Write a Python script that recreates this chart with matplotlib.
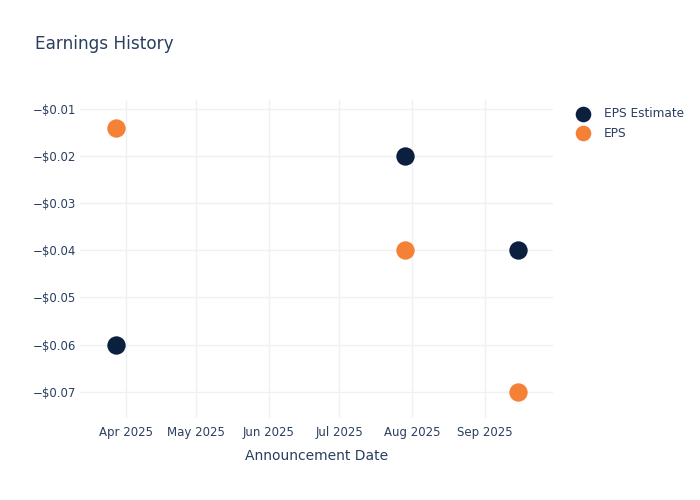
import numpy as np
import pandas as pd
import matplotlib
matplotlib.use("Agg")
import matplotlib.pyplot as plt
import matplotlib.dates as mdates
from matplotlib.ticker import FuncFormatter

dates = pd.to_datetime(["2025-03-28", "2025-07-29", "2025-09-15"])
eps_estimate = [-0.06, -0.02, -0.04]
eps_actual = [-0.014, -0.04, -0.07]

navy = "#0b1f3f"
orange = "#f58137"
text_col = "#2a3f5f"
grid_col = "#eef0f4"

plt.rcParams["font.family"] = ["DejaVu Sans"]

fig = plt.figure(figsize=(7, 5), dpi=100)
ax = fig.add_axes([80 / 700, 82 / 500, 473 / 700, 318 / 500])

ax.scatter(dates, eps_estimate, s=175, color=navy, label="EPS Estimate", zorder=3, linewidths=0)
ax.scatter(dates, eps_actual, s=175, color=orange, label="EPS", zorder=3, linewidths=0)

ax.set_xlim(pd.Timestamp("2025-03-12 12:00"), pd.Timestamp("2025-09-30"))
ax.set_ylim(-0.0756, -0.0081)

ax.xaxis.set_major_locator(mdates.MonthLocator(bymonthday=1))
ax.xaxis.set_major_formatter(mdates.DateFormatter("%b %Y"))
ax.set_yticks([-0.01, -0.02, -0.03, -0.04, -0.05, -0.06, -0.07])
ax.yaxis.set_major_formatter(FuncFormatter(lambda v, p: ("\u2212$%.2f" % abs(v)) if v < 0 else "$%.2f" % v))

for s in ax.spines.values():
    s.set_visible(False)
ax.grid(True, color=grid_col, linewidth=1)
ax.set_axisbelow(True)
ax.tick_params(axis="both", length=0, labelsize=8.5, colors=text_col)
ax.tick_params(axis="y", pad=3)
ax.tick_params(axis="x", pad=6)

ax.set_xlabel("Announcement Date", fontsize=10, color=text_col, labelpad=7)
fig.text(35 / 700, 1 - 44 / 500, "Earnings History", fontsize=12.2, color=text_col, va="center", ha="left")

leg = fig.legend(loc="upper left", bbox_to_anchor=(576 / 700, 1 - 107 / 500), frameon=False,
                 fontsize=8.7, handletextpad=1.1, labelspacing=0.55, markerscale=0.85,
                 borderaxespad=0, borderpad=0, handlelength=1.2)
for t in leg.get_texts():
    t.set_color(text_col)

fig.savefig("out.png", dpi=100)
